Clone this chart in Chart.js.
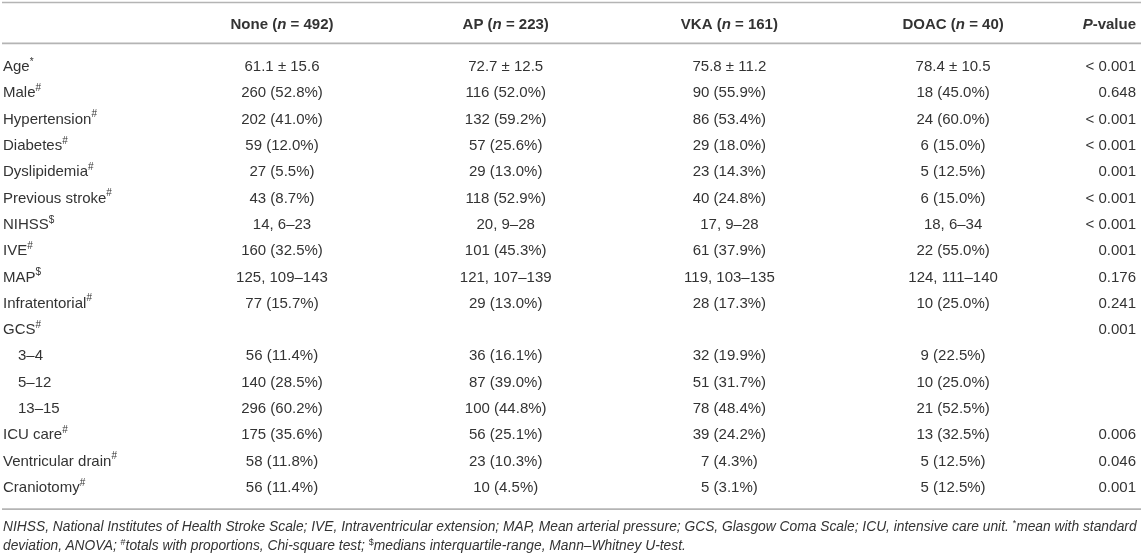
<!DOCTYPE html>
<html>
<head>
<meta charset="utf-8">
<script src="https://cdn.jsdelivr.net/npm/chart.js@4"></script>
<style>
  html, body { margin: 0; padding: 0; background: #ffffff; }
  #wrap { position: relative; width: 1143px; height: 557px; overflow: hidden; }
  #chart { position: absolute; left: 0; top: 0; }
  #foot {
    position: absolute; left: 3px; top: 518px; white-space: nowrap;
    font-family: "Liberation Sans", Arial, Helvetica, sans-serif;
    font-style: italic; font-size: 13.8px; line-height: 18px; color: #333333;
  }
  #foot sup { font-size: 9px; font-style: normal; vertical-align: 0; position: relative; top: -5px; }
</style>
</head>
<body>
<div id="wrap">
  <canvas id="chart" width="1143" height="557"></canvas>
  <div id="foot">NIHSS, National Institutes of Health Stroke Scale; IVE, Intraventricular extension; MAP, Mean arterial pressure; GCS, Glasgow Coma Scale; ICU, intensive care unit. <sup>*</sup>mean with standard<br>deviation, ANOVA; <sup>#</sup>totals with proportions, Chi-square test; <sup>$</sup>medians interquartile-range, Mann–Whitney U-test.</div>
</div>
<script>
// ---- data ----
const rowLabels = ['Age', 'Male', 'Hypertension', 'Diabetes', 'Dyslipidemia', 'Previous stroke', 'NIHSS', 'IVE', 'MAP', 'Infratentorial', 'GCS', '3–4', '5–12', '13–15', 'ICU care', 'Ventricular drain', 'Craniotomy'];
const rowMarks = ['*', '#', '#', '#', '#', '#', '$', '#', '$', '#', '#', '', '', '', '#', '#', '#'];
const subRows = ['3–4', '5–12', '13–15'];
const groups = ['None', 'AP', 'VKA', 'DOAC'];
const groupN = [492, 223, 161, 40];
const noneValues = ['61.1 ± 15.6', '260 (52.8%)', '202 (41.0%)', '59 (12.0%)', '27 (5.5%)', '43 (8.7%)', '14, 6–23', '160 (32.5%)', '125, 109–143', '77 (15.7%)', '', '56 (11.4%)', '140 (28.5%)', '296 (60.2%)', '175 (35.6%)', '58 (11.8%)', '56 (11.4%)'];
const apValues = ['72.7 ± 12.5', '116 (52.0%)', '132 (59.2%)', '57 (25.6%)', '29 (13.0%)', '118 (52.9%)', '20, 9–28', '101 (45.3%)', '121, 107–139', '29 (13.0%)', '', '36 (16.1%)', '87 (39.0%)', '100 (44.8%)', '56 (25.1%)', '23 (10.3%)', '10 (4.5%)'];
const vkaValues = ['75.8 ± 11.2', '90 (55.9%)', '86 (53.4%)', '29 (18.0%)', '23 (14.3%)', '40 (24.8%)', '17, 9–28', '61 (37.9%)', '119, 103–135', '28 (17.3%)', '', '32 (19.9%)', '51 (31.7%)', '78 (48.4%)', '39 (24.2%)', '7 (4.3%)', '5 (3.1%)'];
const doacValues = ['78.4 ± 10.5', '18 (45.0%)', '24 (60.0%)', '6 (15.0%)', '5 (12.5%)', '6 (15.0%)', '18, 6–34', '22 (55.0%)', '124, 111–140', '10 (25.0%)', '', '9 (22.5%)', '10 (25.0%)', '21 (52.5%)', '13 (32.5%)', '5 (12.5%)', '5 (12.5%)'];
const pValues = ['< 0.001', '0.648', '< 0.001', '< 0.001', '0.001', '< 0.001', '< 0.001', '0.001', '0.176', '0.241', '0.001', '', '', '', '0.006', '0.046', '0.001'];

// ---- layout (scale units) ----
const FONT = '"Liberation Sans", Arial, Helvetica, sans-serif';
const TEXT = '#333333';
const colX = { label: -1.2472, groups: [0, 1, 2, 3], p: 3.8176 };
const xRange = { min: -1.2606, max: 3.8489 };
const yRange = { min: -2.5475, max: 18.631 };
const headerY = -1.6;
const ruleY = [-2.45, -0.9, 16.81];

const columns = [
  { values: rowLabels, x: colX.label, align: 'left', kind: 'label' },
  { values: noneValues, x: colX.groups[0], align: 'center' },
  { values: apValues, x: colX.groups[1], align: 'center' },
  { values: vkaValues, x: colX.groups[2], align: 'center' },
  { values: doacValues, x: colX.groups[3], align: 'center' },
  { values: pValues, x: colX.p, align: 'right' }
];

const datasets = columns.map((c, ci) => ({
  label: 'col' + ci,
  data: c.values.map((_, i) => ({ x: c.x, y: i })),
  pointRadius: 0, pointHoverRadius: 0, showLine: false
}));

function drawRich(ctx, segs, x, y, align) {
  let w = 0;
  segs.forEach(s => { ctx.font = s.font; w += ctx.measureText(s.t).width; });
  let cx = align === 'left' ? x : align === 'right' ? x - w : x - w / 2;
  segs.forEach(s => {
    ctx.font = s.font;
    ctx.fillText(s.t, cx, y + (s.dy || 0));
    cx += ctx.measureText(s.t).width;
  });
}

const BODY = '15px ' + FONT;
const SUP = '10px ' + FONT;
const BOLD = 'bold 15px ' + FONT;
const BOLDI = 'italic bold 15px ' + FONT;

const tablePlugin = {
  id: 'tableText',
  afterDatasetsDraw(chart) {
    const ctx = chart.ctx;
    const xs = chart.scales.x, ys = chart.scales.y;
    ctx.save();
    // rules
    ctx.strokeStyle = '#b4b4b4';
    ctx.lineWidth = 1.6;
    ruleY.forEach(v => {
      const py = ys.getPixelForValue(v);
      ctx.beginPath(); ctx.moveTo(2, py); ctx.lineTo(1141, py); ctx.stroke();
    });
    ctx.fillStyle = TEXT;
    ctx.textBaseline = 'middle';
    // header
    const hy = ys.getPixelForValue(headerY);
    groups.forEach((g, gi) => {
      drawRich(ctx, [
        { t: g + ' (', font: BOLD },
        { t: 'n', font: BOLDI },
        { t: ' = ' + groupN[gi] + ')', font: BOLD }
      ], xs.getPixelForValue(colX.groups[gi]), hy, 'center');
    });
    drawRich(ctx, [{ t: 'P', font: BOLDI }, { t: '-value', font: BOLD }], xs.getPixelForValue(colX.p), hy, 'right');
    // cells
    columns.forEach((c, ci) => {
      const meta = chart.getDatasetMeta(ci);
      meta.data.forEach((el, i) => {
        const txt = c.values[i];
        if (!txt) return;
        if (c.kind === 'label') {
          const indent = subRows.includes(txt) ? 15 : 0;
          const segs = [{ t: txt, font: BODY }];
          if (rowMarks[i]) segs.push({ t: rowMarks[i], font: SUP, dy: -5 });
          drawRich(ctx, segs, el.x + indent, el.y, 'left');
        } else {
          drawRich(ctx, [{ t: txt, font: BODY }], el.x, el.y, c.align);
        }
      });
    });
    ctx.restore();
  }
};

new Chart(document.getElementById('chart'), {
  type: 'scatter',
  data: { datasets },
  options: {
    responsive: false,
    animation: false,
    events: [],
    layout: { padding: 0 },
    plugins: { legend: { display: false }, tooltip: { enabled: false } },
    scales: {
      x: { type: 'linear', display: false, min: xRange.min, max: xRange.max },
      y: { type: 'linear', display: false, reverse: true, min: yRange.min, max: yRange.max }
    }
  },
  plugins: [tablePlugin]
});
</script>
</body>
</html>
